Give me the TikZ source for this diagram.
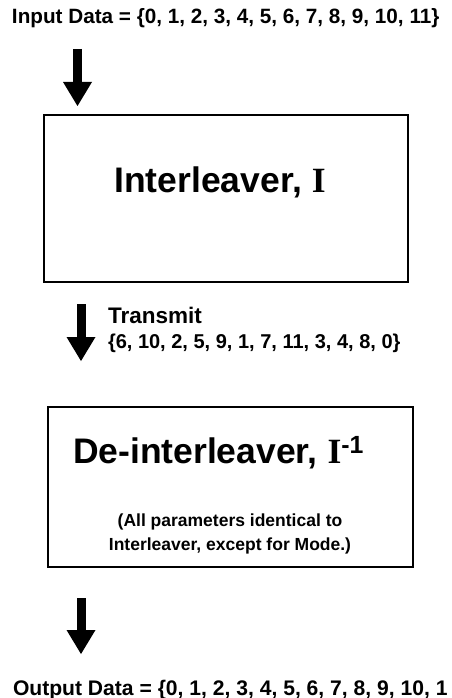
\documentclass[tikz,border=0pt]{standalone}
\usepackage{fontspec}
\setmainfont{Liberation Sans}
\newfontfamily\romanI{Liberation Serif}
\usetikzlibrary{arrows.meta}
\begin{document}
\begin{tikzpicture}[x=1pt,y=-1pt,
  every node/.style={inner sep=0pt, outer sep=0pt},
  blockbox/.style={draw, line width=2pt, fill=white},
  datatext/.style={font=\bfseries\fontsize{20.7}{24}\selectfont},
  outtext/.style={font=\bfseries\fontsize{21.1}{24}\selectfont},
  titletext/.style={font=\bfseries\fontsize{35.5}{40}\selectfont},
  labeltext/.style={font=\bfseries\fontsize{22.5}{26}\selectfont},
  seqtext/.style={font=\bfseries\fontsize{20}{24}\selectfont},
  notetext/.style={font=\bfseries\fontsize{17.5}{22}\selectfont},
  flowarrow/.style={line width=9pt,
    -{Triangle[width=29pt,length=24pt,line width=0pt]}}]
  \useasboundingbox (0,0) rectangle (451,698);

  % input sequence
  \node[datatext, anchor=base west] (input) at (12,24)
    {Input Data = \{0, 1, 2, 3, 4, 5, 6, 7, 8, 9, 10, 11\}};

  % interleaver block
  \node[blockbox, minimum width=364pt, minimum height=167pt] (inter) at (226,198.5) {};
  \node[titletext, anchor=base] (intertitle) at (220,192)
    {Interleaver, {\romanI I}};

  % transmitted sequence
  \node[labeltext, anchor=base west] (transmit) at (108,323) {Transmit};
  \node[seqtext, anchor=base west] (txseq) at (108,348)
    {\{6, 10, 2, 5, 9, 1, 7, 11, 3, 4, 8, 0\}};

  % de-interleaver block
  \node[blockbox, minimum width=365pt, minimum height=160pt] (deinter) at (230.5,487) {};
  \node[titletext, anchor=base west] (deintertitle) at (73,463)
    {De-interleaver, {\romanI I}\textsuperscript{-1}};
  \node[notetext, anchor=base] (note1) at (230,526)
    {(All parameters identical to};
  \node[notetext, anchor=base] (note2) at (230,550)
    {Interleaver, except for Mode.)};

  % output sequence
  \node[outtext, anchor=base west] (output) at (13,695)
    {Output Data = \{0, 1, 2, 3, 4, 5, 6, 7, 8, 9, 10, 1};

  % flow arrows
  \coordinate (a1s) at (77.5,49);  \coordinate (a1e) at (77.5,106);
  \coordinate (a2s) at (81,304);   \coordinate (a2e) at (81,361);
  \coordinate (a3s) at (81,598);   \coordinate (a3e) at (81,654);
  \draw[flowarrow] (a1s) -- (a1e);
  \draw[flowarrow] (a2s) -- (a2e);
  \draw[flowarrow] (a3s) -- (a3e);
\end{tikzpicture}
\end{document}
